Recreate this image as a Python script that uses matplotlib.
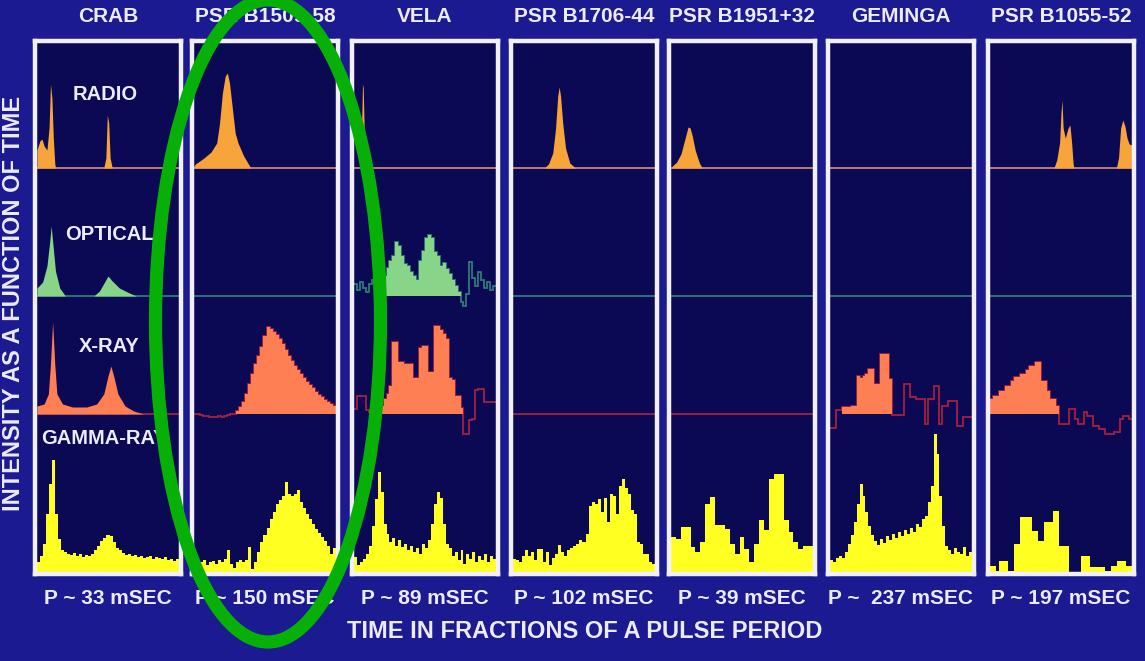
import numpy as np
import matplotlib
matplotlib.use('Agg')
import matplotlib.pyplot as plt
from matplotlib.patches import Ellipse

plt.rcParams['font.family'] = ['Liberation Sans', 'DejaVu Sans']

# pulsars, periods and energy bands
pulsars = ['CRAB', 'PSR B1509-58', 'VELA', 'PSR B1706-44', 'PSR B1951+32', 'GEMINGA', 'PSR B1055-52']
periods = ['P ~ 33 mSEC', 'P ~ 150 mSEC', 'P ~ 89 mSEC', 'P ~ 102 mSEC', 'P ~ 39 mSEC', 'P ~  237 mSEC', 'P ~ 197 mSEC']
bands = ['RADIO', 'OPTICAL', 'X-RAY', 'GAMMA-RAY']

# smooth light curves: pulse phase and relative intensity
crab_radio_phase = [0, 0.02, 0.035, 0.05, 0.07, 0.085, 0.095, 0.105, 0.115, 0.125, 0.13, 0.47, 0.485, 0.495, 0.505, 0.515, 0.53, 1.0]
crab_radio = [18, 27, 29, 22, 18, 40, 84, 70, 30, 5, 0, 0, 10, 53, 45, 10, 0, 0]
crab_optical_phase = [0, 0.04, 0.07, 0.09, 0.10, 0.11, 0.13, 0.16, 0.2, 0.4, 0.44, 0.48, 0.50, 0.53, 0.58, 0.65, 0.7, 1.0]
crab_optical = [8, 14, 30, 55, 70, 55, 25, 8, 0, 0, 5, 15, 20, 15, 8, 3, 0, 0]
crab_xray_phase = [0, 0.05, 0.08, 0.095, 0.11, 0.125, 0.14, 0.18, 0.25, 0.35, 0.42, 0.47, 0.50, 0.52, 0.54, 0.57, 0.62, 0.68, 0.75, 1.0]
crab_xray = [8, 10, 20, 50, 92, 50, 20, 10, 7, 7, 10, 20, 38, 48, 38, 20, 8, 3, 0, 0]
b1509_radio_phase = [0, 0.01, 0.07, 0.12, 0.16, 0.18, 0.20, 0.22, 0.235, 0.25, 0.27, 0.29, 0.31, 0.35, 0.40, 1.0]
b1509_radio = [2, 4, 10, 16, 25, 45, 75, 92, 95, 85, 60, 35, 25, 12, 0, 0]
vela_radio_phase = [0, 0.04, 0.05, 0.06, 0.065, 0.075, 0.09, 1.0]
vela_radio = [0, 0, 20, 84, 80, 20, 0, 0]
b1706_radio_phase = [0, 0.22, 0.25, 0.28, 0.30, 0.315, 0.325, 0.335, 0.35, 0.37, 0.40, 0.44, 1.0]
b1706_radio = [0, 0, 4, 15, 40, 72, 81, 72, 45, 20, 5, 0, 0]
b1951_radio_phase = [0, 0.01, 0.04, 0.07, 0.10, 0.12, 0.135, 0.15, 0.17, 0.20, 0.22, 1.0]
b1951_radio = [0, 2, 6, 14, 30, 41, 40, 32, 18, 5, 0, 0]
b1055_radio_phase = [0, 0.45, 0.47, 0.49, 0.50, 0.507, 0.515, 0.53, 0.55, 0.563, 0.575, 0.585, 0.59,
                     0.89, 0.905, 0.92, 0.935, 0.95, 0.965, 0.98, 1.0]
b1055_radio = [0, 0, 8, 25, 55, 68, 40, 30, 40, 43, 25, 5, 0, 0, 10, 40, 48, 42, 30, 24, 23]

# binned light curves (equal phase bins), relative counts
crab_gamma = [12, 18, 30, 60, 90, 114, 60, 35, 24, 22, 20, 19, 21, 18, 20, 17, 19, 18, 20, 24,
              28, 33, 36, 39, 38, 32, 26, 24, 21, 19, 20, 18, 19, 17, 18, 16, 17, 18, 15, 17,
              16, 15, 17, 14, 15, 13, 15]
b1509_xray = [0, 0, -1, -2, -2, -3, -3, -3, -2, -3, -2, -1, 0, 0, 3, 7, 12, 20, 30, 40,
              50, 58, 67, 78, 87, 85, 82, 79, 75, 70, 64, 58, 53, 48, 44, 40, 36, 32, 29, 26,
              22, 19, 17, 14, 12, 10, 8]
b1509_gamma = [15, 13, 12, 14, 9, 12, 13, 10, 14, 12, 15, 24, 10, 6, 12, 14, 12, 14, 27, 5,
               12, 22, 32, 39, 46, 55, 62, 70, 74, 78, 92, 80, 78, 80, 84, 72, 66, 60, 55, 50,
               45, 41, 37, 33, 28, 20, 26]
vela_optical = [12, 6, 14, 8, 4, 12, 16, 10, 6, 14, 20, 28, 35, 40, 54, 50, 40, 32, 30, 24,
                20, 16, 35, 45, 58, 61, 58, 44, 40, 30, 33, 27, 22, 16, 10, 4, -6, -10, 2, 34,
                18, 10, 24, 16, 8, 14, 6, 10]
vela_xray = [5, 18, 18, 18, 4, 2, 0, 3, 5, 8, 15, 20, 28, 72, 72, 52, 52, 50, 50, 50,
             36, 36, 66, 68, 68, 42, 42, 88, 88, 84, 80, 75, 36, 34, 18, 18, 6, -20, -20, -6,
             -5, 24, 25, 25, 12, 12, 12, 12]
vela_gamma = [17, 9, 12, 15, 20, 28, 48, 75, 102, 82, 50, 40, 32, 36, 28, 34, 27, 30, 24, 28,
              22, 26, 20, 30, 26, 34, 50, 70, 82, 76, 50, 30, 26, 18, 22, 14, 24, 10, 20, 15,
              22, 12, 18, 14, 20, 12, 18, 15]
b1706_gamma = [15, 14, 12, 18, 24, 18, 22, 14, 25, 25, 12, 22, 9, 16, 20, 29, 22, 18, 24, 26,
               28, 30, 34, 32, 40, 68, 72, 70, 75, 62, 76, 52, 80, 78, 60, 88, 95, 86, 80, 64,
               60, 32, 30, 20, 20, 12, 10]
b1951_gamma = [37, 35, 47, 47, 27, 22, 32, 70, 77, 49, 49, 45, 30, 20, 37, 25, 12, 30, 54, 44,
               95, 100, 100, 54, 42, 32, 25, 28, 28]
geminga_xray = [-14, -14, 4, 4, 7, 7, 7, 8, 8, 38, 36, 38, 40, 45, 45, 30, 30, 60, 60, 60,
                35, -1, -1, -1, -1, 30, 30, 17, 17, 15, 15, 15, -10, 15, 15, 28, 28, -10, 8, 8,
                13, 13, 13, -12, -12, -3, -3, -3]
geminga_gamma = [14, 12, 16, 18, 16, 22, 30, 39, 52, 70, 90, 78, 62, 48, 39, 33, 29, 35, 31, 38,
                 34, 40, 36, 42, 38, 44, 40, 46, 42, 50, 47, 55, 58, 72, 88, 140, 120, 78, 48, 28,
                 24, 20, 26, 22, 20, 27, 18, 22]
b1055_xray = [15, 18, 18, 23, 23, 28, 28, 33, 37, 37, 40, 40, 44, 48, 48, 52, 52, 33, 33, 23,
              15, 15, 8, -10, -10, -10, 5, 5, -5, -10, -10, 2, -2, -2, -12, -12, -15, -15, -20, -20,
              -20, -18, -18, -5, -2, -2, -5]
b1055_gamma = [8, 8, 3, 13, 13, 13, 3, 3, 30, 30, 57, 57, 57, 57, 43, 43, 33, 33, 52, 52,
               52, 63, 63, 28, 28, 28, 1, 1, 1, 1, 18, 18, 18, 7, 7, 7, 7, 7, 3, 3,
               8, 8, 13, 13, 13, 8, 8]

# which curve goes in which panel / band
smooth_curves = [
    (0, 'RADIO', crab_radio_phase, crab_radio),
    (0, 'OPTICAL', crab_optical_phase, crab_optical),
    (0, 'X-RAY', crab_xray_phase, crab_xray),
    (1, 'RADIO', b1509_radio_phase, b1509_radio),
    (2, 'RADIO', vela_radio_phase, vela_radio),
    (3, 'RADIO', b1706_radio_phase, b1706_radio),
    (4, 'RADIO', b1951_radio_phase, b1951_radio),
    (6, 'RADIO', b1055_radio_phase, b1055_radio),
]
# (panel, band, counts, on-pulse bin window that is filled)
binned_curves = [
    (0, 'GAMMA-RAY', crab_gamma, None),
    (1, 'X-RAY', b1509_xray, (14, 47)),
    (1, 'GAMMA-RAY', b1509_gamma, None),
    (2, 'OPTICAL', vela_optical, (10, 36)),
    (2, 'X-RAY', vela_xray, (9, 37)),
    (2, 'GAMMA-RAY', vela_gamma, None),
    (3, 'GAMMA-RAY', b1706_gamma, None),
    (4, 'GAMMA-RAY', b1951_gamma, None),
    (5, 'X-RAY', geminga_xray, (4, 21)),
    (5, 'GAMMA-RAY', geminga_gamma, None),
    (6, 'X-RAY', b1055_xray, (0, 23)),
    (6, 'GAMMA-RAY', b1055_gamma, None),
]

# band styling: baseline height inside a panel, fill colour, trace colour
band_base = {'RADIO': 406, 'OPTICAL': 278, 'X-RAY': 160, 'GAMMA-RAY': 0}
band_fill = {'RADIO': '#f7a43a', 'OPTICAL': '#88d488', 'X-RAY': '#ff7f54', 'GAMMA-RAY': '#ffff22'}
band_line = {'RADIO': '#c98276', 'OPTICAL': '#2f7a78', 'X-RAY': '#a3203e', 'GAMMA-RAY': None}

W, H = 1145, 661
bg = '#1c1a90'
panel_bg = '#0b0953'
text_col = '#ecebff'
panel_left = [33, 190, 350, 509, 667, 826, 986]

fig = plt.figure(figsize=(W / 100, H / 100), dpi=100, facecolor=bg)

axes = []
for i, name in enumerate(pulsars):
    x0 = panel_left[i] + 2
    ax = fig.add_axes([x0 / W, (H - 574) / H, 146 / W, 533 / H])
    ax.set_facecolor(panel_bg)
    ax.set_xlim(-0.014, 1.014)
    ax.set_ylim(0, 533)
    ax.set_xticks([])
    ax.set_yticks([])
    for s in ax.spines.values():
        s.set_color('#f2f0ff')
        s.set_linewidth(3.2)
    axes.append(ax)

    cx = (panel_left[i] + 75) / W
    fig.text(cx, 1 - 16 / H, name, ha='center', va='center', color=text_col,
             fontsize=15, fontweight='bold')
    fig.text(cx, 1 - 599 / H, periods[i], ha='center', va='center', color=text_col,
             fontsize=15, fontweight='bold')

# baseline lines where a band has no binned trace
has_binned = {(p, b) for p, b, _, _ in binned_curves}
for i, ax in enumerate(axes):
    for b in ['RADIO', 'OPTICAL', 'X-RAY']:
        if (i, b) not in has_binned:
            ax.axhline(band_base[b], color=band_line[b], lw=1.3, zorder=1)

for p, b, ph, val in smooth_curves:
    base = band_base[b]
    axes[p].fill_between(ph, base, base + np.asarray(val, float), color=band_fill[b], lw=0, zorder=2)

for p, b, val, win in binned_curves:
    ax = axes[p]
    base = band_base[b]
    v = np.asarray(val, float)
    edges = np.linspace(0, 1, len(v) + 1)
    if band_line[b]:
        ax.stairs(base + v, edges, baseline=None, color=band_line[b], lw=1.3, zorder=2)
    lo, hi = win if win else (0, len(v))
    ax.stairs(base + v[lo:hi], edges[lo:hi + 1], baseline=base, fill=True,
              color=band_fill[b], lw=0, zorder=2)

# band names in the Crab panel
band_label_pos = {'RADIO': (73, 95), 'OPTICAL': (65, 235), 'X-RAY': (79, 346), 'GAMMA-RAY': (41, 438)}
for b in bands:
    x, y = band_label_pos[b]
    fig.text(x / W, 1 - y / H, b, ha='left', va='center', color=text_col,
             fontsize=14.5, fontweight='bold')

fig.text(585 / W, 1 - 632 / H, 'TIME IN FRACTIONS OF A PULSE PERIOD', ha='center', va='center',
         color=text_col, fontsize=17, fontweight='bold')
fig.text(14 / W, 1 - 303 / H, 'INTENSITY AS A FUNCTION OF TIME', rotation=90, ha='center',
         va='center', color=text_col, fontsize=17, fontweight='bold')

# green highlight ellipse around PSR B1509-58
over = fig.add_axes([0, 0, 1, 1], zorder=10)
over.set_xlim(0, W)
over.set_ylim(H, 0)
over.axis('off')
over.patch.set_visible(False)
over.add_patch(Ellipse((268, 321), 225, 642, fill=False, ec='#06b006', lw=9.5))

fig.savefig('out.png', dpi=100, facecolor=bg)
